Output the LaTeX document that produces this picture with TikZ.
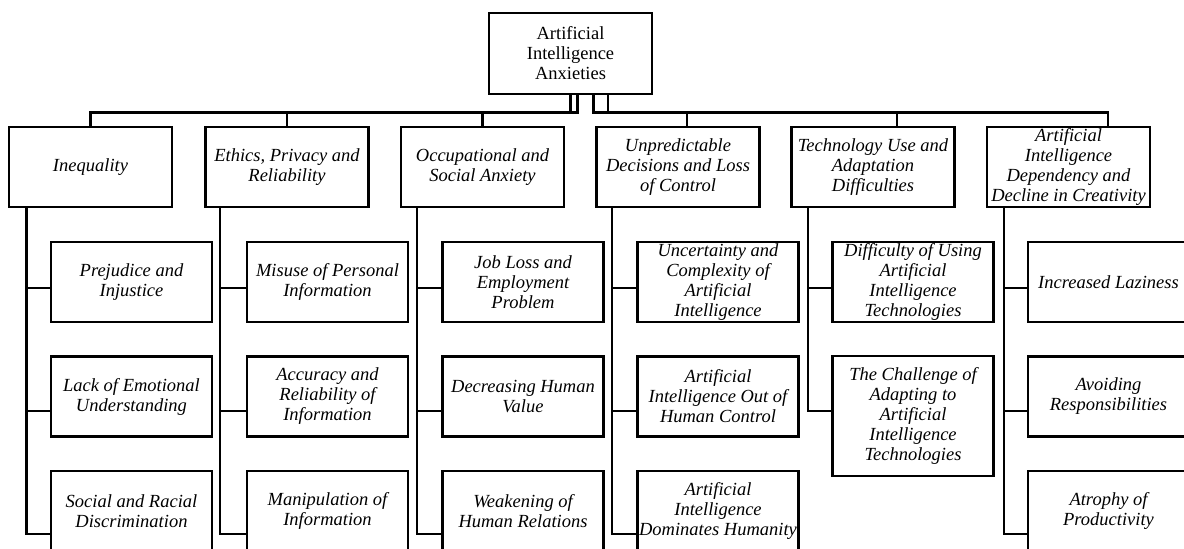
\documentclass[tikz,border=0pt]{standalone}
\usepackage{fontspec}
\setmainfont{Liberation Serif}

\tikzset{
	rootbox/.style={draw, line width=1.35pt, inner sep=0.5pt, align=center, minimum width=81.5pt, minimum height=40.5pt, font=\fontsize{9.25}{10}\selectfont},
	catbox/.style={rootbox, minimum height=40pt, font=\fontsize{9.25}{10}\selectfont\itshape},
	subbox/.style={catbox, minimum width=80.5pt},
	link/.style={line width=1.2pt}
}

\begin{document}
\begin{tikzpicture}[x=0.5pt,y=-0.5pt]
		\useasboundingbox (0,0) rectangle (1184,548);
		\clip (0,0) rectangle (1184,548);
		\draw (570.5,53.5) node[rootbox] (root) {Artificial\\Intelligence\\Anxieties}
		(90.5,167) node[catbox] (ineq) {Inequality}
		(287,167) node[catbox] (ethics) {Ethics, Privacy and\\Reliability}
		(482.5,167) node[catbox] (occup) {Occupational and\\Social Anxiety}
		(678,167) node[catbox] (unpred) {Unpredictable\\Decisions and Loss\\of Control}
		(873,167) node[catbox] (techuse) {Technology Use and\\Adaptation\\Difficulties}
		(1068.5,167) node[catbox] (depend) {Artificial\\Intelligence\\Dependency and\\Decline in Creativity}
		(131.5,282) node[subbox] (ineq1) {Prejudice and\\Injustice}
		(131.5,396.5) node[subbox] (ineq2) {Lack of Emotional\\Understanding}
		(131.5,511) node[subbox] (ineq3) {Social and Racial\\Discrimination}
		(327.5,282) node[subbox] (ethics1) {Misuse of Personal\\Information}
		(327.5,396.5) node[subbox] (ethics2) {Accuracy and\\Reliability of\\Information}
		(327.5,511) node[subbox] (ethics3) {Manipulation of\\Information}
		(523,282) node[subbox] (occup1) {Job Loss and\\Employment\\Problem}
		(523,396.5) node[subbox] (occup2) {Decreasing Human\\Value}
		(523,511) node[subbox] (occup3) {Weakening of\\Human Relations}
		(718,282) node[subbox] (unpred1) {Uncertainty and\\Complexity of\\Artificial\\Intelligence}
		(718,396.5) node[subbox] (unpred2) {Artificial\\Intelligence Out of\\Human Control}
		(718,511) node[subbox] (unpred3) {Artificial\\Intelligence\\Dominates Humanity}
		(913,282) node[subbox] (techuse1) {Difficulty of Using\\Artificial\\Intelligence\\Technologies}
		(913,416) node[subbox, minimum height=60pt] (techuse2) {The Challenge of\\Adapting to\\Artificial\\Intelligence\\Technologies}
		(1108.5,282) node[subbox] (depend1) {Increased Laziness}
		(1108.5,396.5) node[subbox] (depend2) {Avoiding\\Responsibilities}
		(1108.5,511) node[subbox] (depend3) {Atrophy of\\Productivity};
		
		\draw[link] (root.south) -- ++(0,-8.5pt) -| (ineq.north);
		\draw[link] (root.south) -- ++(0,-8.5pt) -| (ethics.north);
		\draw[link] ([xshift=3.5pt]root.south) -- ++(0,-8.5pt) -| (occup.north);
		\draw[link] ([xshift=11.5pt]root.south) -- ++(0,-8.5pt) -| ([xshift=4.5pt]unpred.north);
		\draw[link] ([xshift=18.75pt]root.south) -- ++(0,-8.5pt) -| ([xshift=12pt]techuse.north);
		\draw[link] ([xshift=18.75pt]root.south) -- ++(0,-8.5pt) -| ([xshift=19.75pt]depend.north);
		
		\draw[link] ([xshift=-32pt]ineq.south) |- ([yshift=-3pt]ineq1.west);
		\draw[link] ([xshift=-32pt]ineq.south) |- ([yshift=-7.25pt]ineq2.west);
		\draw[link] ([xshift=-32pt]ineq.south) |- ([yshift=-11.5pt]ineq3.west);
		\draw[link] ([xshift=-33.5pt]ethics.south) |- ([yshift=-3pt]ethics1.west);
		\draw[link] ([xshift=-33.5pt]ethics.south) |- ([yshift=-7.25pt]ethics2.west);
		\draw[link] ([xshift=-33.5pt]ethics.south) |- ([yshift=-11.5pt]ethics3.west);
		\draw[link] ([xshift=-32.75pt]occup.south) |- ([yshift=-3pt]occup1.west);
		\draw[link] ([xshift=-32.75pt]occup.south) |- ([yshift=-7.25pt]occup2.west);
		\draw[link] ([xshift=-32.75pt]occup.south) |- ([yshift=-11.5pt]occup3.west);
		\draw[link] ([xshift=-33pt]unpred.south) |- ([yshift=-3pt]unpred1.west);
		\draw[link] ([xshift=-33pt]unpred.south) |- ([yshift=-7.25pt]unpred2.west);
		\draw[link] ([xshift=-33pt]unpred.south) |- ([yshift=-11.5pt]unpred3.west);
		\draw[link] ([xshift=-32.5pt]techuse.south) |- ([yshift=-3pt]techuse1.west);
		\draw[link] ([xshift=-32.5pt]techuse.south) |- ([yshift=2.5pt]techuse2.west);
		\draw[link] ([xshift=-32.25pt]depend.south) |- ([yshift=-3pt]depend1.west);
		\draw[link] ([xshift=-32.25pt]depend.south) |- ([yshift=-7.25pt]depend2.west);
		\draw[link] ([xshift=-32.25pt]depend.south) |- ([yshift=-11.5pt]depend3.west);
	\end{tikzpicture}
\end{document}
